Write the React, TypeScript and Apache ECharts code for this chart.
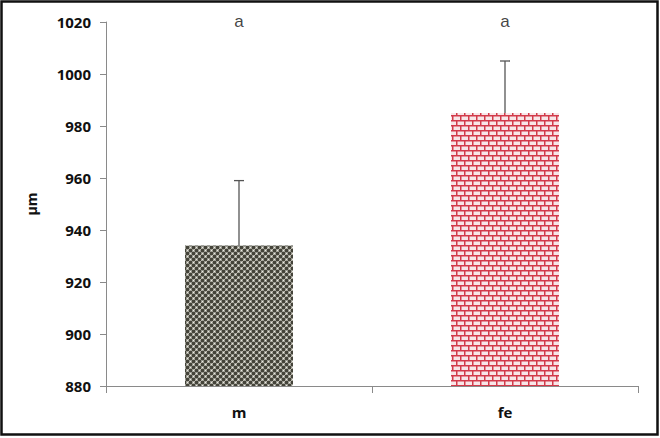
import React, { useEffect, useRef } from "react";
import * as echarts from "echarts";

const categories = ["m", "fe"];
const means = [934, 985];
const errors = [25, 20];
const letters = ["a", "a"];
const yTicks = { min: 880, max: 1020, interval: 20 };

function dotPattern(): string {
  const c = document.createElement("canvas");
  c.width = 6;
  c.height = 6;
  const g = c.getContext("2d")!;
  g.fillStyle = "#ecebe2";
  g.fillRect(0, 0, 6, 6);
  g.fillStyle = "#45443a";
  const pts = [[1.5, 1.5], [4.5, 4.5], [4.5, -1.5], [-1.5, 4.5], [7.5, 4.5], [4.5, 7.5], [-1.5, -1.5], [7.5, 7.5], [7.5, 1.5], [1.5, 7.5]];
  for (const [x, y] of pts) {
    g.beginPath();
    g.arc(x, y, 2.0, 0, Math.PI * 2);
    g.fill();
  }
  return c.toDataURL();
}

function brickPattern(): string {
  const c = document.createElement("canvas");
  c.width = 8;
  c.height = 10;
  const g = c.getContext("2d")!;
  g.fillStyle = "#f8e6e8";
  g.fillRect(0, 0, 8, 10);
  g.fillStyle = "#d23a4a";
  g.fillRect(0, 0, 8, 1.5);
  g.fillRect(0, 5, 8, 1.5);
  g.fillRect(0, 0, 1.5, 5);
  g.fillRect(4, 5, 1.5, 5);
  return c.toDataURL();
}

export default function App() {
  const ref = useRef<HTMLDivElement>(null);
  useEffect(() => {
    document.body.style.margin = "0";
    const chart = echarts.init(ref.current!, null, { renderer: "svg" });
    const patterns = [dotPattern(), brickPattern()];
    chart.setOption({
      animation: false,
      backgroundColor: "#ffffff",
      grid: { left: 106, right: 22, top: 22, bottom: 52 },
      graphic: [
        {
          type: "rect",
          shape: { x: 1.5, y: 1.5, width: 656, height: 433 },
          style: { fill: "none", stroke: "#111", lineWidth: 2.5 },
          silent: true,
        },
      ],
      xAxis: {
        type: "category",
        data: categories,
        axisLine: { lineStyle: { color: "#8a8a8a", width: 1 } },
        axisTick: { show: true, length: 7, lineStyle: { color: "#8a8a8a" } },
        axisLabel: {
          fontFamily: "Open Sans",
          fontWeight: "bold",
          fontSize: 15,
          color: "#111",
          margin: 18,
        },
      },
      yAxis: {
        type: "value",
        min: yTicks.min,
        max: yTicks.max,
        interval: yTicks.interval,
        name: "µm",
        nameLocation: "middle",
        nameGap: 68,
        nameTextStyle: {
          fontFamily: "Open Sans",
          fontWeight: "bold",
          fontSize: 14,
          color: "#111",
        },
        splitLine: { show: false },
        axisLine: { show: true, lineStyle: { color: "#8a8a8a", width: 1 } },
        axisTick: { show: true, length: 6, lineStyle: { color: "#8a8a8a" } },
        axisLabel: {
          fontFamily: "Open Sans",
          fontWeight: "bold",
          fontSize: 15,
          color: "#111",
          margin: 15,
          formatter: (v: number) => String(v),
        },
      },
      series: [
        {
          type: "bar",
          barWidth: 108,
          data: means.map((v, i) => ({
            value: v,
            itemStyle: {
              color: { image: patterns[i], repeat: "repeat" },
            },
          })),
          z: 2,
        },
        {
          type: "custom",
          z: 3,
          data: means.map((v, i) => [i, v, v + errors[i]]),
          renderItem: (params: any, api: any) => {
            const p0 = api.coord([api.value(0), api.value(1)]);
            const p1 = api.coord([api.value(0), api.value(2)]);
            return {
              type: "group",
              children: [
                {
                  type: "line",
                  shape: { x1: p0[0], y1: p0[1], x2: p1[0], y2: p1[1] },
                  style: { stroke: "#555", lineWidth: 1.3 },
                },
                {
                  type: "line",
                  shape: { x1: p1[0] - 5, y1: p1[1], x2: p1[0] + 5, y2: p1[1] },
                  style: { stroke: "#555", lineWidth: 1.3 },
                },
              ],
            };
          },
        },
        {
          type: "scatter",
          symbolSize: 0,
          data: letters.map((t, i) => ({ value: [i, yTicks.max], name: t })),
          label: {
            show: true,
            position: "inside",
            formatter: (p: any) => p.name,
            fontFamily: "Liberation Sans",
            fontSize: 17,
            color: "#111",
            offset: [0, -1],
          },
          z: 4,
        },
      ],
    });
    return () => chart.dispose();
  }, []);
  return <div ref={ref} style={{ width: 660, height: 438 }} />;
}
